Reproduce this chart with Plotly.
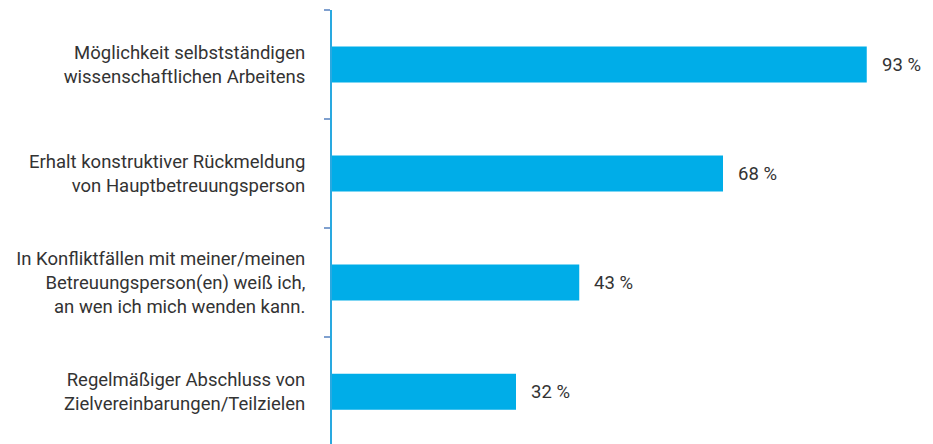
import plotly.graph_objects as go

categories = [
    "Möglichkeit selbstständigen<br>wissenschaftlichen Arbeitens",
    "Erhalt konstruktiver Rückmeldung<br>von Hauptbetreuungsperson",
    "In Konfliktfällen mit meiner/meinen<br>Betreuungsperson(en) weiß ich,<br>an wen ich mich wenden kann.",
    "Regelmäßiger Abschluss von<br>Zielvereinbarungen/Teilzielen",
]
values = [93, 68, 43, 32]
value_labels = [f"{v} %" for v in values]

BAR = "#00ADE8"
FONT = "Roboto, Liberation Sans, Arial, sans-serif"
FS = 18.5

fig = go.Figure()
fig.add_trace(go.Bar(
    x=values, y=categories, orientation="h",
    marker=dict(color=BAR, line=dict(width=0)),
    width=0.33, hoverinfo="skip",
))

for c, v, t in zip(categories, values, value_labels):
    fig.add_annotation(x=v, y=c, text=t, showarrow=False, xanchor="left",
                       xshift=13, font=dict(family=FONT, size=FS, color="#333333"))

fig.update_layout(
    width=933, height=444,
    margin=dict(l=324, r=34, t=2, b=8, autoexpand=False),
    paper_bgcolor="white", plot_bgcolor="white",
    showlegend=False,
    font=dict(family=FONT, size=FS, color="#333333"),
    xaxis=dict(range=[0, 100], visible=False, fixedrange=True),
    yaxis=dict(
        type="category",
        range=[3.48, -0.5],
        autorange=False,
        showline=True, linecolor="#29A9E0", linewidth=2,
        ticks="outside", tickson="boundaries", ticklen=6, tickwidth=2,
        tickcolor="#7FA0CF",
        showgrid=False, zeroline=False,
        ticklabelstandoff=21,
        tickfont=dict(family=FONT, size=FS, color="#333333"),
        fixedrange=True,
    ),
)

fig.write_html("out.html")
